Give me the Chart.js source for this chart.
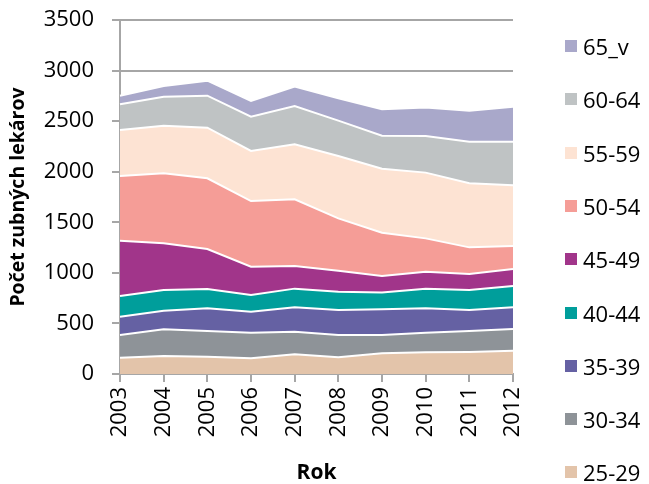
<!DOCTYPE html>
<html>
<head>
<meta charset="utf-8">
<script src="https://cdn.jsdelivr.net/npm/chart.js@4/dist/chart.umd.min.js"></script>
<style>
  html, body { margin: 0; padding: 0; background: #fff; }
  #wrap { position: relative; width: 649px; height: 484px; }
  #legend { position: absolute; left: 565px; top: 0; font-family: "Open Sans", sans-serif; font-size: 22px; color: #000; }
  #legend .item { position: absolute; left: 0; display: flex; align-items: center; white-space: nowrap; transform: translateY(-50%); }
  #legend .box { width: 12px; height: 12px; margin-right: 6px; }
</style>
</head>
<body>
<div id="wrap">
  <canvas id="c" width="649" height="484"></canvas>
  <div id="legend"></div>
</div>
<script>
// Years on the x axis
const years = ['2003', '2004', '2005', '2006', '2007', '2008', '2009', '2010', '2011', '2012'];

// Number of dentists per age group (stacked from the youngest group up)
const g25_29 = [161, 178, 171, 155, 195, 165, 205, 215, 218, 230];
const g30_34 = [225, 264, 254, 254, 223, 221, 181, 194, 207, 215];
const g35_39 = [181, 184, 224, 207, 241, 247, 253, 240, 208, 214];
const g40_44 = [204, 204, 191, 165, 185, 181, 168, 195, 197, 211];
const g45_49 = [547, 462, 396, 280, 224, 207, 162, 168, 159, 168];
const g50_54 = [640, 692, 699, 649, 659, 518, 428, 329, 263, 228];
const g55_59 = [454, 471, 500, 495, 544, 616, 633, 650, 633, 599];
const g60_64 = [254, 287, 317, 339, 379, 350, 326, 362, 412, 432];
const g65_v  = [ 86, 105, 148, 155, 191, 220, 261, 283, 306, 346];

const groupLabels = ['25-29', '30-34', '35-39', '40-44', '45-49', '50-54', '55-59', '60-64', '65_v'];
const groupValues = [g25_29, g30_34, g35_39, g40_44, g45_49, g50_54, g55_59, g60_64, g65_v];
const groupColors = ['#e3c4aa', '#8e9398', '#6561a3', '#009e9b', '#a1358a', '#f59d97', '#fde3d3', '#bfc3c4', '#a9a8ca'];

const yTicks = { min: 0, max: 3500, step: 500 };

const datasets = groupLabels.map((label, i) => ({
  label: label,
  data: groupValues[i],
  backgroundColor: groupColors[i],
  borderColor: '#ffffff',
  borderWidth: 2,
  pointRadius: 0,
  tension: 0,
  fill: i === 0 ? 'origin' : '-1'
}));

const font = 'Open Sans';
const axisGray = '#a6a6a6';

new Chart(document.getElementById('c'), {
  type: 'line',
  data: { labels: years, datasets: datasets },
  options: {
    responsive: false,
    animation: false,
    layout: { padding: { top: 20, right: 136, bottom: 0, left: 0 } },
    plugins: {
      legend: { display: false },
      tooltip: { enabled: false }
    },
    scales: {
      x: {
        offset: false,
        afterFit: (s) => { s.height = 110; },
        grid: { drawOnChartArea: false, drawTicks: true, tickLength: 8, color: axisGray, lineWidth: 2 },
        border: { color: axisGray, width: 2 },
        ticks: { color: '#000', font: { family: font, size: 22 }, minRotation: 90, maxRotation: 90, padding: 5, autoSkip: false },
        title: { display: true, text: 'Rok', color: '#000', font: { family: font, size: 21, weight: 'bold' }, padding: { top: 0, bottom: -2 } }
      },
      y: {
        stacked: true,
        min: yTicks.min,
        max: yTicks.max,
        // fixed axis width; keep the label gap from inflating the top/bottom padding
        afterFit: (s) => { s.width = 120; s.paddingTop = 13; s.paddingBottom = 13; },
        grid: { color: axisGray, lineWidth: 2, tickLength: 8, drawTicks: true },
        border: { color: axisGray, width: 2 },
        ticks: { stepSize: yTicks.step, color: '#000', font: { family: font, size: 22 }, padding: 18, callback: (v) => String(v) },
        title: { display: true, text: 'Počet zubných lekárov', color: '#000', font: { family: font, size: 19.5, weight: 'bold' }, padding: { top: 7, bottom: 0 } }
      }
    }
  }
});

// Legend: oldest group on top
const legend = document.getElementById('legend');
for (let k = 0; k < groupLabels.length; k++) {
  const i = groupLabels.length - 1 - k;
  const item = document.createElement('div');
  item.className = 'item';
  item.style.top = (46 + k * 53.3) + 'px';
  const box = document.createElement('span');
  box.className = 'box';
  box.style.background = groupColors[i];
  const txt = document.createElement('span');
  txt.textContent = groupLabels[i];
  item.appendChild(box);
  item.appendChild(txt);
  legend.appendChild(item);
}
</script>
</body>
</html>
